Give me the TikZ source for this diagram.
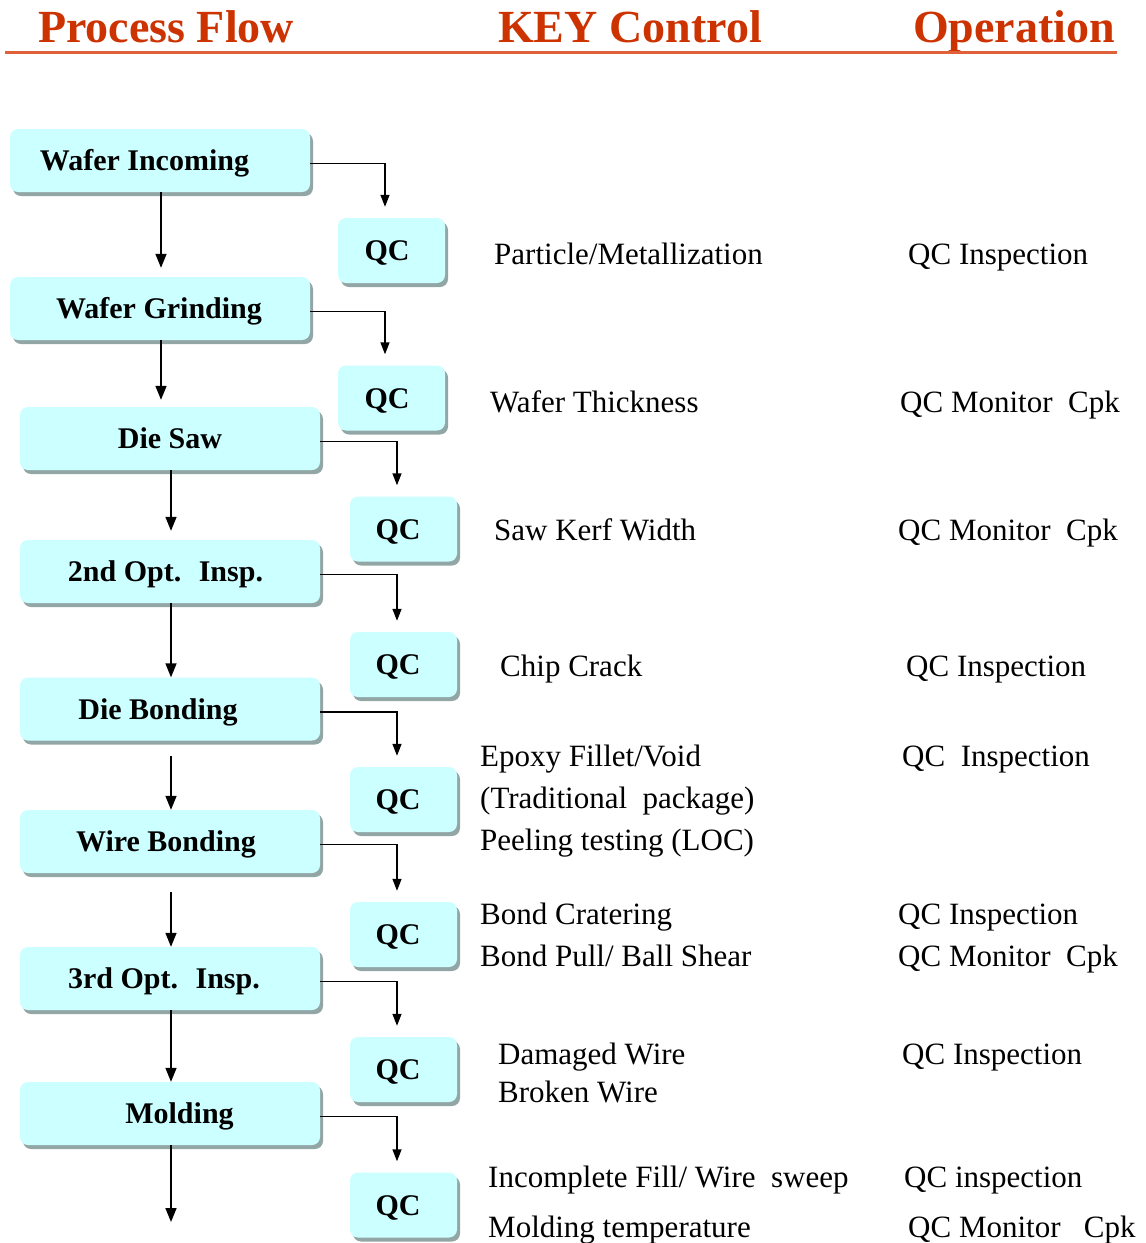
\documentclass[tikz,border=0pt]{standalone}
\usepackage{fontspec}
\setmainfont{Liberation Serif}
\usetikzlibrary{shadows,arrows.meta}

\definecolor{boxfill}{RGB}{204,255,255}
\definecolor{boxshade}{RGB}{128,150,150}
\definecolor{headred}{RGB}{204,51,0}
\definecolor{ruleorange}{RGB}{224,96,58}

\tikzset{
  stepbox/.style={fill=boxfill, rounded corners=8pt, inner sep=0pt,
    minimum width=300pt, minimum height=63pt,
    text height=20pt, text depth=0pt,
    font=\fontsize{30}{36}\selectfont\bfseries,
    drop shadow={shadow xshift=3pt, shadow yshift=-4pt, fill=boxshade, opacity=0.85}},
  qcbox/.style={stepbox, minimum width=107pt, minimum height=65pt},
  flow/.style={line width=1.6pt, -{Triangle[length=14pt,width=11pt]}},
  side/.style={line width=1.4pt, -{Triangle[length=12pt,width=9pt]}},
  heading/.style={anchor=base west, inner sep=0pt, text=headred,
    font=\fontsize{46}{50}\selectfont\bfseries},
  note/.style={anchor=base west, inner sep=0pt,
    font=\fontsize{31}{36}\selectfont},
}

\begin{document}
\begin{tikzpicture}[x=1pt, y=-1pt]
  \useasboundingbox (0,0) rectangle (1146,1243);

  % column headings and rule
  \node[heading] (h1) at (38,42) {Process Flow};
  \node[heading] (h2) at (498,42) {KEY Control};
  \node[heading] (h3) at (913,42) {Operation};
  \draw[ruleorange, line width=3pt] (5,52) -- (1117,52);

  % process steps
  \node[stepbox] (b1) at (160,160.5) {Wafer Incoming\hspace*{31pt}};
  \node[stepbox] (b2) at (160,308.5) {Wafer Grinding\hspace*{2pt}};
  \node[stepbox] (b3) at (170,438.5) {Die Saw};
  \node[stepbox] (b4) at (170,571.5) {2nd Opt.~ Insp.\hspace*{9pt}};
  \node[stepbox] (b5) at (170,709) {Die Bonding\hspace*{24pt}};
  \node[stepbox] (b6) at (170,841.5) {Wire Bonding\hspace*{8pt}};
  \node[stepbox] (b7) at (170,978.5) {3rd Opt.~ Insp.\hspace*{12pt}};
  \node[stepbox] (b8) at (170,1113.5) {\hspace*{19pt}Molding};
  \coordinate (out) at (171,1222);

  % QC checkpoints
  \node[qcbox] (q1) at (391.5,250.5) {QC\hspace*{9pt}};
  \node[qcbox] (q2) at (391.5,398) {QC\hspace*{9pt}};
  \node[qcbox] (q3) at (403.5,529) {QC\hspace*{11pt}};
  \node[qcbox] (q4) at (403.5,664.5) {QC\hspace*{11pt}};
  \node[qcbox] (q5) at (403.5,799.5) {QC\hspace*{11pt}};
  \node[qcbox] (q6) at (403.5,934.5) {QC\hspace*{11pt}};
  \node[qcbox] (q7) at (403.5,1069.5) {QC\hspace*{11pt}};
  \node[qcbox] (q8) at (403.5,1205) {QC\hspace*{11pt}};

  % main flow
  \draw[flow] ([xshift=1pt]b1.south) -- ([xshift=1pt,yshift=9pt]b1.south |- b2.north);
  \draw[flow] ([xshift=1pt]b2.south) -- ([xshift=1pt,yshift=7pt]b2.south |- b3.north);
  \draw[flow] ([xshift=1pt]b3.south) -- ([xshift=1pt,yshift=9pt]b3.south |- b4.north);
  \draw[flow] ([xshift=1pt]b4.south) -- ([xshift=1pt]b4.south |- b5.north);
  \draw[flow] ([xshift=1pt,yshift=-15pt]b5.south) -- ([xshift=1pt]b5.south |- b6.north);
  \draw[flow] ([xshift=1pt,yshift=-19pt]b6.south) -- ([xshift=1pt]b6.south |- b7.north);
  \draw[flow] ([xshift=1pt]b7.south) -- ([xshift=1pt]b7.south |- b8.north);
  \draw[flow] ([xshift=1pt]b8.south) -- (out);

  % branches to QC
  \foreach \b/\q in {b1/q1,b2/q2,b3/q3,b4/q4,b5/q5,b6/q6,b7/q7,b8/q8}
    \draw[side] ([yshift=-3pt]\b.east) -| ([xshift=-6.5pt,yshift=11pt]\q.north);

  % key control items
  \node[note] (k1)  at (494,264)  {Particle/Metallization};
  \node[note] (k2)  at (490,412)  {Wafer Thickness};
  \node[note] (k3)  at (494,540)  {Saw Kerf Width};
  \node[note] (k4)  at (500,676)  {Chip Crack};
  \node[note] (k5a) at (480,766)  {Epoxy Fillet/Void};
  \node[note] (k5b) at (480,808)  {(Traditional~ package)};
  \node[note] (k5c) at (480,850)  {Peeling testing (LOC)};
  \node[note] (k6a) at (480,924)  {Bond Cratering};
  \node[note] (k6b) at (480,966)  {Bond Pull/ Ball Shear};
  \node[note] (k7a) at (498,1064) {Damaged Wire};
  \node[note] (k7b) at (498,1102) {Broken Wire};
  \node[note] (k8a) at (488,1187) {Incomplete Fill/ Wire~ sweep};
  \node[note] (k8b) at (488,1237) {Molding temperature};

  % operations
  \node[note] (o1)  at (908,264)  {QC Inspection};
  \node[note] (o2)  at (900,412)  {QC Monitor~~Cpk};
  \node[note] (o3)  at (898,540)  {QC Monitor~~Cpk};
  \node[note] (o4)  at (906,676)  {QC Inspection};
  \node[note] (o5)  at (902,766)  {QC~~Inspection};
  \node[note] (o6a) at (898,924)  {QC Inspection};
  \node[note] (o6b) at (898,966)  {QC Monitor~~Cpk};
  \node[note] (o7)  at (902,1064) {QC Inspection};
  \node[note] (o8a) at (904,1187) {QC inspection};
  \node[note] (o8b) at (908,1237) {QC Monitor~~~Cpk};
\end{tikzpicture}
\end{document}
